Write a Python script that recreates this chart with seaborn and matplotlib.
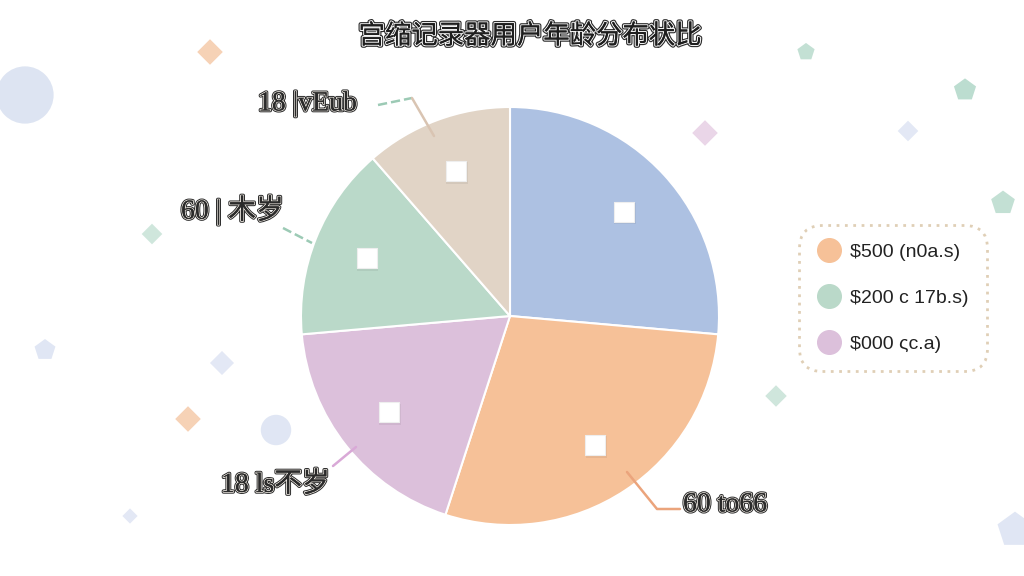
import numpy as np
import matplotlib.pyplot as plt
import matplotlib.patheffects as pe
from matplotlib.lines import Line2D
import seaborn as sns

sns.set_theme(style="white")
plt.rcParams['font.family'] = ['Noto Sans CJK SC', 'DejaVu Sans']

# --- datos ---
TITLE = "宫缩记录器用户年龄分布状比"
SLICE_VALUES = [26.4, 28.6, 18.6, 15.0, 11.4]   # clockwise from 12 o'clock
SLICE_COLORS = ["#adc1e2", "#f6c198", "#dcc0db", "#bad9c9", "#e1d4c6"]
OUTER_LABELS = ["18 |vEub", "60 | 木岁", "18 ls不岁", "60 to66"]
LEGEND_LABELS = ["$500 (n0a.s)", "$200 c 17b.s)", "$000 ςc.a)"]
LEGEND_COLORS = ["#f6c198", "#bad9c9", "#dcc0db"]

W, H = 1024, 576
fig = plt.figure(figsize=(W / 100, H / 100), dpi=100)
ax = fig.add_axes([0, 0, 1, 1])

def Y(y):
    return H - y

# --- decoraciones de fondo ---
deco = [
    (25, 95, 1700, "o", "#dde4f2"), (210, 52, 170, "D", "#f6d2b6"),
    (806, 52, 170, "p", "#c3e0d4"), (965, 90, 280, "p", "#bcddd0"),
    (705, 133, 170, "D", "#ead6e8"), (908, 131, 110, "D", "#e3e8f5"),
    (1003, 203, 320, "p", "#c3e0d4"), (152, 234, 110, "D", "#cfe6dc"),
    (45, 350, 250, "p", "#e0e6f4"), (222, 363, 150, "D", "#e3e8f5"),
    (188, 419, 170, "D", "#f6d2b6"), (276, 430, 480, "o", "#e0e6f4"),
    (776, 396, 120, "D", "#cfe6dc"), (130, 516, 60, "D", "#e3e8f5"),
    (1015, 530, 700, "p", "#e0e6f4"),
]
for x, y, s, m, c in deco:
    ax.scatter(x, Y(y), s=s, marker=m, color=c, edgecolors="none", zorder=1)

# --- pastel ---
cx, cy, R = 510, 316, 209
wedges, _ = ax.pie(SLICE_VALUES, colors=SLICE_COLORS, startangle=90, counterclock=False,
                   center=(cx, Y(cy)), radius=R,
                   wedgeprops=dict(edgecolor="white", linewidth=1.5))
for w in wedges:
    w.set_zorder(2)
    mid = np.deg2rad((w.theta1 + w.theta2) / 2)
    px, py = cx + 0.74 * R * np.cos(mid), Y(cy) + 0.74 * R * np.sin(mid)
    ax.scatter(px + 1, py - 2, s=240, marker="s", color="#000000", alpha=0.06,
               edgecolors="none", zorder=3)
    ax.scatter(px, py, s=210, marker="s", color="white", edgecolors="#eeeeee",
               linewidths=0.8, zorder=4)

ax.set_xlim(0, W)
ax.set_ylim(0, H)
ax.set_aspect("equal")
ax.axis("off")

# --- titulo ---
outline = [pe.withStroke(linewidth=3.2, foreground="#2a2a2a"),
           pe.withStroke(linewidth=1.6, foreground="#f2f2f2"), pe.Normal()]
ax.text(530, Y(36), TITLE, fontsize=19, fontweight="medium", color="#1e1e1e",
        ha="center", va="center", path_effects=outline, zorder=6)

# --- etiquetas exteriores y lineas guia ---
label_pos = [(258, 104), (181, 210), (221, 485), (683, 505)]
lab_outline = [pe.withStroke(linewidth=2.6, foreground="#2a2a2a"),
               pe.withStroke(linewidth=1.2, foreground="#f4efe8"), pe.Normal()]
for (x, y), lab in zip(label_pos, OUTER_LABELS):
    ax.text(x, Y(y), lab, fontsize=20, color="#2a2a2a", ha="left", va="center",
            family=["Liberation Serif", "Noto Sans CJK SC"],
            path_effects=lab_outline, zorder=6)

leaders = [
    ([378, 412], [105, 98], "#9ccab5", "--"),
    ([412, 434], [98, 136], "#d9c4b2", "-"),
    ([283, 312], [228, 243], "#9ccab5", "--"),
    ([333, 356], [466, 447], "#d9a9d7", "-"),
    ([627, 657, 680], [472, 509, 509], "#eba47c", "-"),
]
for xs, ys, c, ls in leaders:
    ax.plot(xs, [Y(v) for v in ys], color=c, linestyle=ls, linewidth=1.8, zorder=5)

# --- leyenda ---
handles = [Line2D([], [], marker="o", linestyle="none", markersize=17,
                  markerfacecolor=c, markeredgecolor=c) for c in LEGEND_COLORS]
leg = ax.legend(handles, LEGEND_LABELS, loc="center", bbox_to_anchor=(893 / W, 1 - 298 / H),
                frameon=True, labelspacing=1.45, handletextpad=0.5,
                borderpad=0.75, borderaxespad=0, handlelength=1.2,
                prop={"family": ["Liberation Sans", "DejaVu Sans"], "size": 14})
fr = leg.get_frame()
fr.set_boxstyle("round,pad=0.2,rounding_size=1.2")
fr.set_edgecolor("#d8c3a4")
fr.set_linestyle((0, (1, 2)))
fr.set_linewidth(2)
fr.set_facecolor("white")
for t in leg.get_texts():
    t.set_color("#222222")

fig.savefig("out.png", dpi=100, facecolor="white")
